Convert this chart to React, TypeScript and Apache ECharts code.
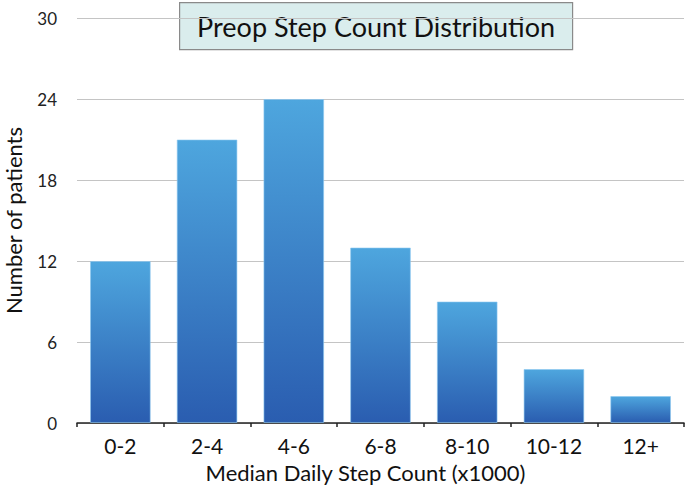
import React, { useEffect, useRef } from "react";
import * as echarts from "echarts";

const categories = ["0-2", "2-4", "4-6", "6-8", "8-10", "10-12", "12+"];
const patients = [12, 21, 24, 13, 9, 4, 2];
const titleText = "Preop Step Count Distribution";
const xName = "Median Daily Step Count (x1000)";
const yName = "Number of patients";

const FONT = "Lato, 'Open Sans', sans-serif";

export default function App() {
  const ref = useRef<HTMLDivElement>(null);
  useEffect(() => {
    if (!ref.current) return;
    const chart = echarts.init(ref.current, null, { renderer: "svg" });
    chart.setOption({
      animation: false,
      backgroundColor: "#ffffff",
      textStyle: { fontFamily: FONT },
      grid: { left: 77, right: 1, top: 18, bottom: 70, containLabel: false, outerBoundsMode: "none" },
      xAxis: {
        type: "category",
        data: categories,
        name: xName,
        nameLocation: "middle",
        nameGap: 38,
        nameTextStyle: { fontSize: 22, color: "#111", fontFamily: FONT, padding: [0, 30, 0, 0] },
        axisLine: { lineStyle: { color: "#222", width: 1.5 } },
        axisTick: { show: true, length: 4, lineStyle: { color: "#222", width: 1.5 } },
        axisLabel: { fontSize: 21, color: "#111", margin: 12, fontFamily: FONT },
      },
      yAxis: {
        type: "value",
        min: 0,
        max: 30,
        interval: 6,
        name: yName,
        nameLocation: "middle",
        nameGap: 53,
        nameRotate: 90,
        nameTextStyle: { fontSize: 22, color: "#111", fontFamily: FONT },
        axisLine: { show: false },
        axisTick: { show: false },
        axisLabel: { fontSize: 17, color: "#222", margin: 20, fontFamily: FONT },
        splitLine: { lineStyle: { color: "#c4c4c4", width: 1 } },
      },
      series: [
        {
          type: "bar",
          data: patients,
          barCategoryGap: "30%",
          itemStyle: {
            color: new echarts.graphic.LinearGradient(0, 0, 0, 1, [
              { offset: 0, color: "#4ea6de" },
              { offset: 1, color: "#2a5db0" },
            ]),
            borderColor: "rgba(140,200,240,0.6)",
            borderWidth: 1,
          },
        },
      ],
      graphic: [
        {
          type: "group",
          left: 179,
          top: 2,
          children: [
            {
              type: "rect",
              shape: { x: 0, y: 0, width: 393, height: 47 },
              style: { fill: "#daeded", stroke: "#8a8a8a", lineWidth: 1.2 },
            },
            {
              type: "text",
              x: 196.5,
              y: 24,
              style: {
                text: titleText,
                fontSize: 27,
                fontFamily: FONT,
                fill: "#111",
                textAlign: "center",
                textVerticalAlign: "middle",
              },
            },
          ],
        },
      ],
    });
    return () => chart.dispose();
  }, []);
  return <div ref={ref} style={{ width: 685, height: 493, position: "absolute", left: 0, top: 0 }} />;
}
